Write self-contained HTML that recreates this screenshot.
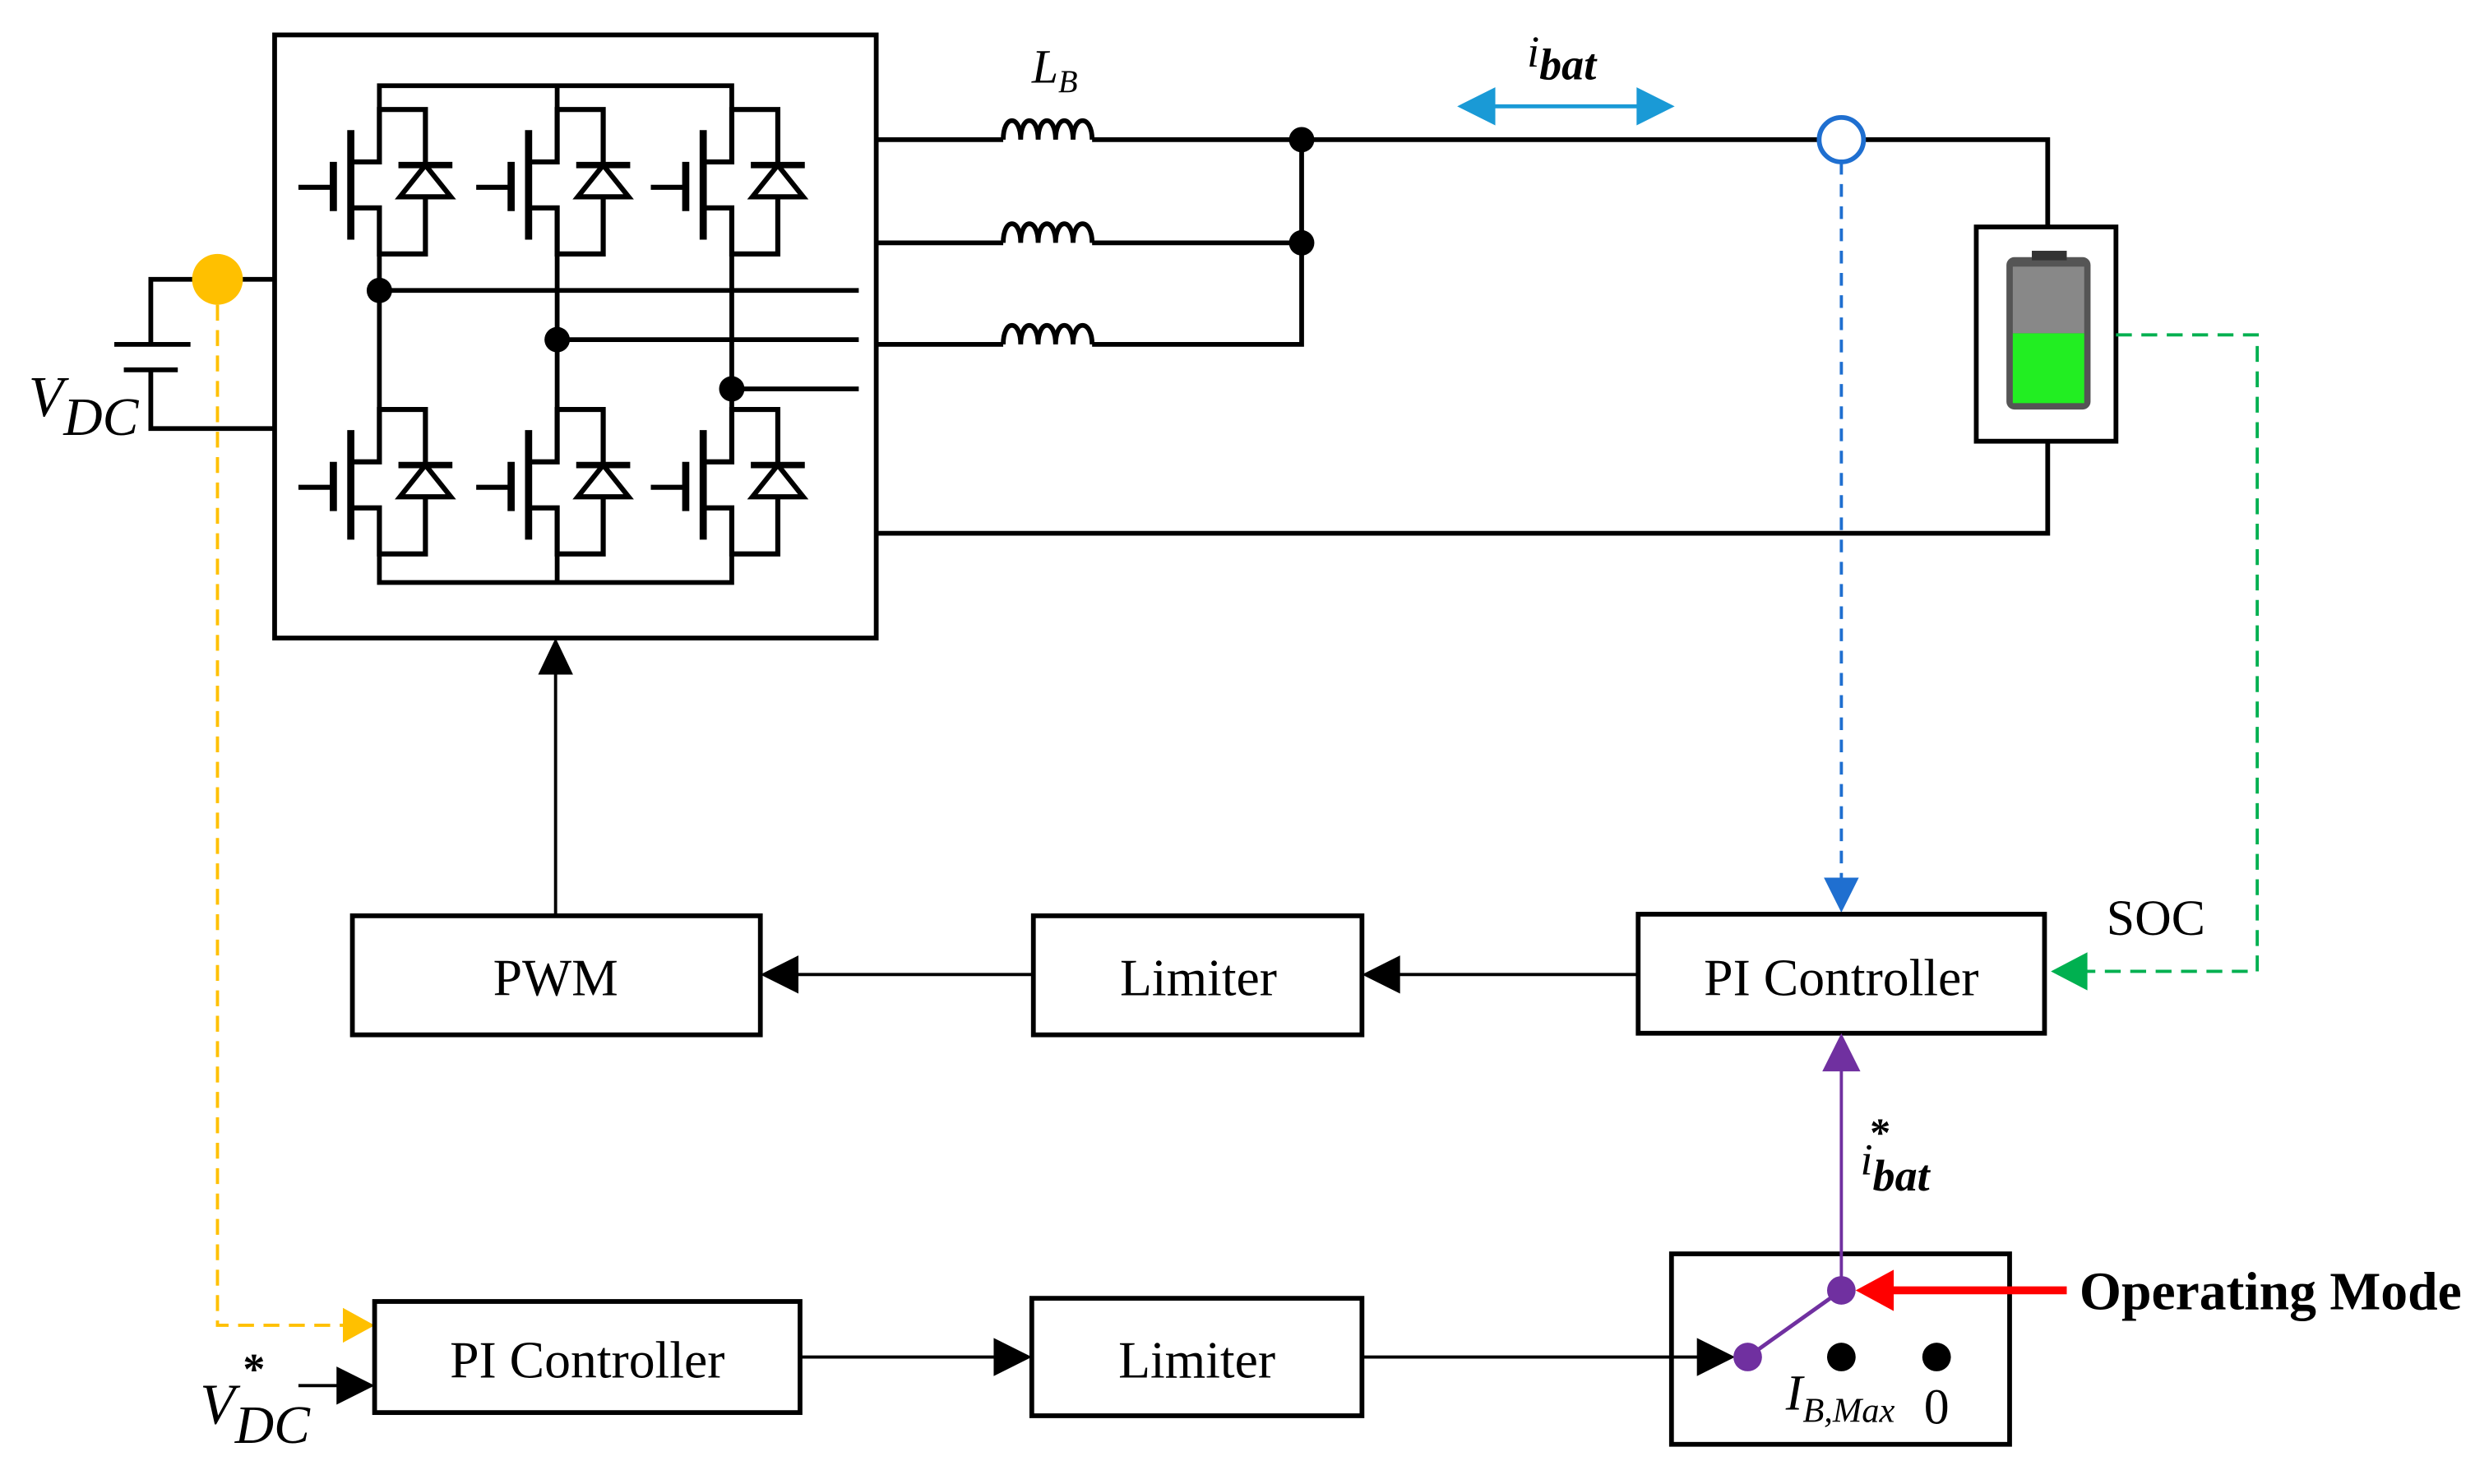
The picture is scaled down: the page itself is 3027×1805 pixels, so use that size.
<!DOCTYPE html>
<html><head><meta charset="utf-8"><style>
html,body{margin:0;padding:0;background:#fff;}
svg{display:block;}
text{font-family:"Liberation Serif",serif;}
</style></head><body>
<svg width="3027" height="1805" viewBox="0 0 1568 935" xmlns="http://www.w3.org/2000/svg">
<defs>
<g id="tr" fill="none" stroke="#000" stroke-width="3.2">
  <line x1="188" y1="118" x2="210" y2="118"/>
  <line x1="210" y1="102" x2="210" y2="133" stroke-width="4.5"/>
  <line x1="221" y1="82" x2="221" y2="151" stroke-width="4.5"/>
  <polyline points="221,102 239,102 239,69 268,69 268,160 239,160 239,131 221,131"/>
  <line x1="251" y1="104" x2="285" y2="104" stroke-width="4"/>
  <polygon points="268,104 252,124 284,124" fill="#fff"/>
</g>
</defs>
<rect width="1568" height="935" fill="#fff"/>
<g fill="none" stroke="#000">
<rect x="173" y="22" width="379" height="380" stroke-width="3"/>
</g>
<use href="#tr"/><use href="#tr" x="112"/><use href="#tr" x="222"/>
<use href="#tr" y="189"/><use href="#tr" x="112" y="189"/><use href="#tr" x="222" y="189"/>
<g fill="none" stroke="#000" stroke-width="3">
<polyline points="239,69 239,54 461,54 461,69"/>
<line x1="351" y1="54" x2="351" y2="69"/>
<polyline points="239,349 239,367 461,367 461,349"/>
<line x1="351" y1="349" x2="351" y2="367"/>
<line x1="239" y1="160" x2="239" y2="258"/>
<line x1="351" y1="160" x2="351" y2="258"/>
<line x1="461" y1="160" x2="461" y2="258"/>
<line x1="239" y1="183" x2="541" y2="183"/>
<line x1="351" y1="214" x2="541" y2="214"/>
<line x1="461" y1="245" x2="541" y2="245"/>
<polyline points="173,176 95,176 95,217"/>
<line x1="72" y1="217" x2="120" y2="217"/>
<line x1="78" y1="233" x2="112" y2="233"/>
<polyline points="95,233 95,270 173,270"/>
<line x1="552" y1="88" x2="632" y2="88"/>
<line x1="552" y1="153" x2="632" y2="153"/>
<line x1="552" y1="217" x2="632" y2="217"/>
<line x1="688" y1="88" x2="1146" y2="88"/>
<line x1="688" y1="153" x2="820" y2="153"/>
<polyline points="688,217 820,217 820,88"/>
<polyline points="1174,88 1290,88 1290,143"/>
<polyline points="1290,278 1290,336 552,336"/>
<rect x="1245" y="143" width="88" height="135"/>
</g>
<g fill="none" stroke="#000" stroke-width="3">
<path d="M632,88 c0,-16 11,-16 11,0 c0,-16 11,-16 11,0 c0,-16 11,-16 11,0 c0,-16 11,-16 11,0 c0,-16 12,-16 12,0"/>
<path d="M632,153 c0,-16 11,-16 11,0 c0,-16 11,-16 11,0 c0,-16 11,-16 11,0 c0,-16 11,-16 11,0 c0,-16 12,-16 12,0"/>
<path d="M632,217 c0,-16 11,-16 11,0 c0,-16 11,-16 11,0 c0,-16 11,-16 11,0 c0,-16 11,-16 11,0 c0,-16 12,-16 12,0"/>
</g>
<g fill="#000">
<circle cx="239" cy="183" r="8"/><circle cx="351" cy="214" r="8"/><circle cx="461" cy="245" r="8"/>
<circle cx="820" cy="88" r="8"/><circle cx="820" cy="153" r="8"/>
</g>
<ellipse cx="137" cy="176" rx="16" ry="16" fill="#ffc000"/>
<circle cx="1160" cy="88" r="14" fill="#fff" stroke="#1f6fd0" stroke-width="3"/>
<rect x="1264" y="162" width="53" height="96" rx="5" fill="#555"/>
<rect x="1268" y="168" width="45" height="42" fill="#888"/>
<rect x="1268" y="210" width="45" height="44" fill="#22ee22"/>
<rect x="1280" y="158" width="22" height="6" fill="#333"/>
<polyline points="137,192 137,835 222,835" fill="none" stroke="#ffc000" stroke-width="2" stroke-dasharray="10,6"/>
<polygon points="236,835 216,824 216,846" fill="#ffc000"/>
<line x1="1160" y1="102" x2="1160" y2="556" stroke="#1f6fd0" stroke-width="2" stroke-dasharray="8,6"/>
<polygon points="1160,575 1149,553 1171,553" fill="#1f6fd0"/>
<polyline points="1333,211 1422,211 1422,612 1310,612" fill="none" stroke="#00b050" stroke-width="2" stroke-dasharray="10,6"/>
<polygon points="1292,612 1315,600 1315,624" fill="#00b050"/>
<line x1="935" y1="67" x2="1038" y2="67" stroke="#1a9ad6" stroke-width="2.5"/>
<polygon points="918,67 942,55 942,79" fill="#1a9ad6"/>
<polygon points="1055,67 1031,55 1031,79" fill="#1a9ad6"/>
<g fill="none" stroke="#000" stroke-width="3">
<rect x="222" y="577" width="257" height="75"/>
<rect x="651" y="577" width="207" height="75"/>
<rect x="1032" y="576" width="256" height="75"/>
<rect x="236" y="820" width="268" height="70"/>
<rect x="650" y="818" width="208" height="74"/>
<rect x="1053" y="790" width="213" height="120"/>
</g>
<g stroke="#000" stroke-width="2">
<line x1="350" y1="577" x2="350" y2="420"/>
<line x1="1032" y1="614" x2="878" y2="614"/>
<line x1="651" y1="614" x2="498" y2="614"/>
<line x1="504" y1="855" x2="630" y2="855"/>
<line x1="858" y1="855" x2="1075" y2="855"/>
<line x1="188" y1="873" x2="216" y2="873"/>
</g>
<g fill="#000">
<polygon points="350,402 339,425 361,425"/>
<polygon points="858,614 882,602 882,626"/>
<polygon points="479,614 503,602 503,626"/>
<polygon points="650,855 626,843 626,867"/>
<polygon points="1093,855 1069,843 1069,867"/>
<polygon points="236,873 212,861 212,885"/>
<circle cx="1160" cy="855" r="9"/><circle cx="1220" cy="855" r="9"/>
</g>
<line x1="1101" y1="855" x2="1160" y2="813" stroke="#7030a0" stroke-width="2.5"/>
<line x1="1160" y1="813" x2="1160" y2="672" stroke="#7030a0" stroke-width="2"/>
<polygon points="1160,651 1148,675 1172,675" fill="#7030a0"/>
<circle cx="1101" cy="855" r="9" fill="#7030a0"/>
<circle cx="1160" cy="813" r="9" fill="#7030a0"/>
<line x1="1302" y1="813" x2="1190" y2="813" stroke="#ff0000" stroke-width="5"/>
<polygon points="1169,813 1193,800 1193,826" fill="#ff0000"/>
<g fill="#000" font-size="33">
<text x="350" y="627" text-anchor="middle">PWM</text>
<text x="755" y="627" text-anchor="middle">Limiter</text>
<text x="1160" y="627" text-anchor="middle">PI Controller</text>
<text x="370" y="868" text-anchor="middle">PI Controller</text>
<text x="754" y="868" text-anchor="middle">Limiter</text>
<text x="1327" y="589" font-size="32">SOC</text>
<text x="1310" y="825" font-weight="bold" font-size="34">Operating Mode</text>
<text x="1212" y="897" font-size="32">0</text>
<text x="1125" y="888" font-style="italic" font-size="32">I<tspan font-size="22" dy="8">B,Max</tspan></text>
<text x="18" y="262" font-style="italic" font-size="36">V<tspan font-size="34" dy="12">DC</tspan></text>
<text x="126" y="897" font-style="italic" font-size="36">V<tspan font-size="34" dy="12">DC</tspan></text>
<text x="153" y="872" font-weight="bold" font-size="28">*</text>
<text x="650" y="52" font-style="italic" font-size="30">L<tspan font-size="20" dy="6">B</tspan></text>
<text x="962" y="42" font-style="italic" font-size="28">i<tspan font-size="28" dy="8" font-weight="bold">bat</tspan></text>
<text x="1172" y="740" font-style="italic" font-size="28">i<tspan font-size="28" dy="10" font-weight="bold">bat</tspan></text>
<text x="1178" y="722" font-weight="bold" font-size="26">*</text>
</g>
</svg>
</body></html>
